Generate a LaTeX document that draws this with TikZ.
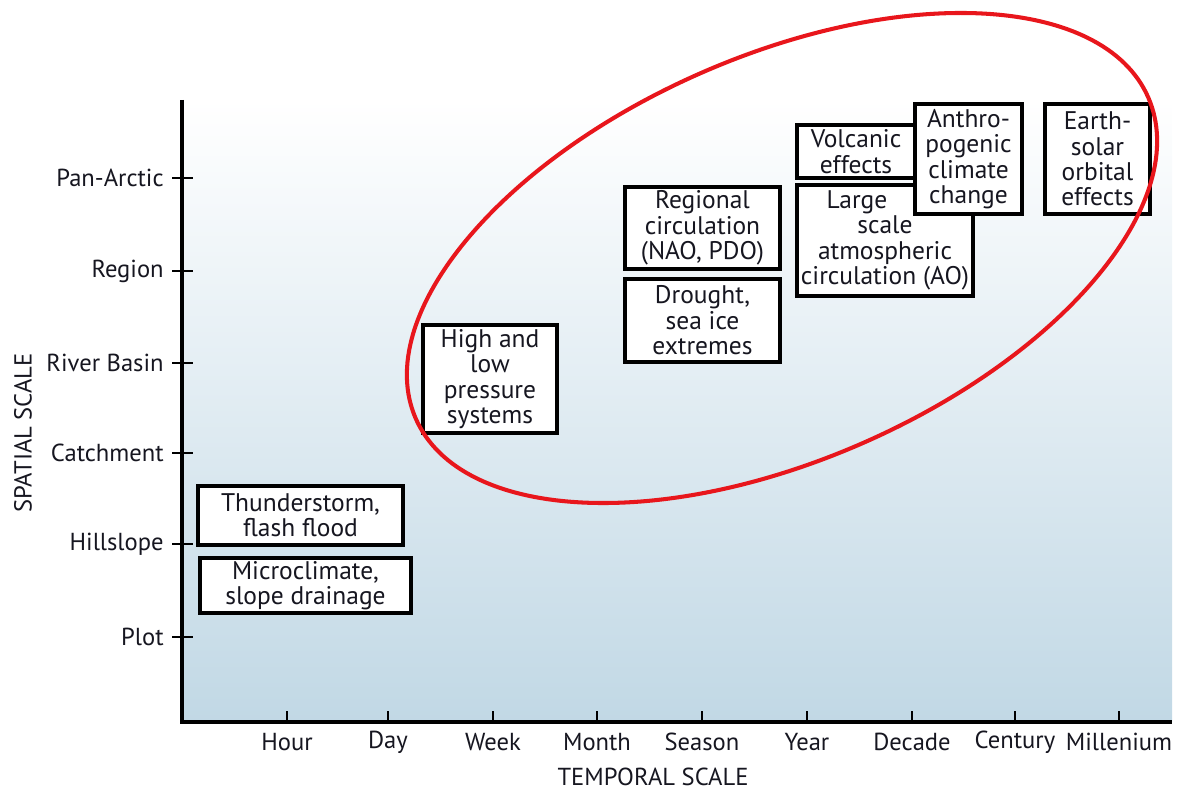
\documentclass[tikz,border=0pt]{standalone}
\usepackage{fontspec}
\setmainfont{PT Sans}
\usetikzlibrary{positioning}
\definecolor{bgblue}{RGB}{193,216,229}
\definecolor{ringred}{RGB}{232,22,28}
\definecolor{inkc}{RGB}{22,22,32}

\begin{document}
\begin{tikzpicture}[x=0.02cm,y=-0.02cm,
	box/.style={draw=black,fill=white,line width=1.9pt,inner sep=0pt,align=center,text=inkc,font=\fontsize{14.5}{14.5}\selectfont},
	scalelbl/.style={text=inkc,inner sep=0pt,font=\fontsize{14}{15}\selectfont},
	axtitle/.style={text=inkc,inner sep=0pt,font=\fontsize{14}{15}\selectfont}]
	\useasboundingbox (0,0) rectangle (1181,790);
	\shade[top color=white,bottom color=bgblue] (182,100) rectangle (1172,722);
	\coordinate (top) at (182,100);
	\coordinate (origin) at (182,722);
	\coordinate (end) at (1172,722);
	\draw[line width=2pt] (top) -- (origin) -- (end);
	\foreach \x/\name [count=\i] in {287/Hour,388/Day,493/Week,597/Month,702/Season,807/Year,912/Decade,1015/Century,1119/Millenium}{
		\draw[line width=1.5pt] (\x,722) -- (\x,711);
		\node[scalelbl] (tlab\i) at (\x,742) {\name};
	}
	\foreach \y/\name [count=\i] in {178/Pan-Arctic,271/Region,363/River Basin,453/Catchment,544/Hillslope,637/Plot}{
		\draw[line width=1.5pt] (172,\y) -- (193,\y);
		\node[scalelbl,anchor=east] (slab\i) at (164,\y) {\name};
	}
	\node[axtitle] (ttitle) at (653,777) {TEMPORAL SCALE};
	\node[axtitle,rotate=90] (stitle) at (23,433) {SPATIAL SCALE};

	\node[box,minimum width=4.1cm,minimum height=1.18cm] (storm) at (300.5,515.5) {Thunderstorm,\\flash flood};
	\node[box,minimum width=4.22cm,minimum height=1.1cm] (micro) at (305.5,585.5) {Microclimate,\\slope drainage};
	\node[box,minimum width=2.68cm,minimum height=2.16cm] (pressure) at (490,379) {High and\\low\\pressure\\systems};
	\node[box,minimum width=3.1cm,minimum height=1.64cm] (regional) at (702.5,228) {Regional\\circulation\\(NAO, PDO)};
	\node[box,minimum width=3.1cm,minimum height=1.66cm] (drought) at (702.5,320.5) {Drought,\\sea ice\\extremes};
	\node[box,minimum width=2.36cm,minimum height=1.06cm] (volcanic) at (856,151.5) {Volcanic\\effects};
	\node[box,minimum width=3.52cm,minimum height=2.22cm] (atmos) at (885,240.5) {Large\hspace*{1.12cm}\\scale\hspace*{1.12cm}\\atmospheric\\circulation (AO)};
	\node[box,minimum width=2.14cm,minimum height=2.2cm] (anthro) at (968.5,159) {Anthro-\\pogenic\\climate\\change};
	\node[box,minimum width=2.1cm,minimum height=2.2cm] (orbital) at (1097.5,159) {Earth-\\solar\\orbital\\effects};

	\draw[ringred,line width=2.3pt,rotate around={23.7:(782,258)}] (782,258) ellipse [x radius=8cm,y radius=4.04cm];
\end{tikzpicture}
\end{document}
